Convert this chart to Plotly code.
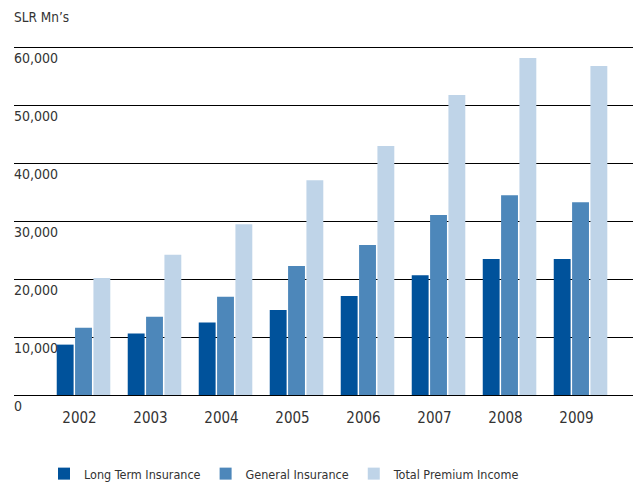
import plotly.graph_objects as go

years = ["2002", "2003", "2004", "2005", "2006", "2007", "2008", "2009"]
long_term = [8700, 10600, 12500, 14700, 17100, 20700, 23500, 23500]
general = [11600, 13500, 16950, 22300, 25900, 31100, 34500, 33300]
total_premium = [20200, 24200, 29500, 37100, 43000, 51800, 58200, 56800]

y_ticks = [0, 10000, 20000, 30000, 40000, 50000, 60000]
y_tick_text = ["0", "10,000", "20,000", "30,000", "40,000", "50,000", "60,000"]

FONT = "DejaVu Sans Condensed, Liberation Sans Narrow, Arial Narrow, sans-serif"
TXT = "#333333"

fig = go.Figure()
fig.add_trace(go.Bar(name="Long Term Insurance", x=years, y=long_term,
                     marker=dict(color="rgb(0,82,155)", line=dict(width=0))))
fig.add_trace(go.Bar(name="General Insurance", x=years, y=general,
                     marker=dict(color="rgb(77,135,186)", line=dict(width=0))))
fig.add_trace(go.Bar(name="Total Premium Income", x=years, y=total_premium,
                     marker=dict(color="rgb(191,212,232)", line=dict(width=0))))

fig.update_layout(
    width=639, height=483,
    margin=dict(l=14, r=6, t=36, b=88, pad=0),
    paper_bgcolor="white", plot_bgcolor="white",
    barmode="group", bargap=0.225, bargroupgap=0.08,
    font=dict(family=FONT, size=14, color=TXT),
    title=dict(text="SLR Mn’s", x=14/639, xref="container", xanchor="left",
               y=1 - 17/483, yref="container", yanchor="middle",
               font=dict(family=FONT, size=13.5, color=TXT)),
    showlegend=True,
    legend=dict(orientation="h", xref="container", yref="container",
                x=44/639, xanchor="left", y=9/483, yanchor="middle",
                font=dict(family=FONT, size=12.5, color=TXT),
                itemwidth=30, traceorder="normal", bgcolor="rgba(0,0,0,0)"),
    xaxis=dict(type="category", range=[-0.979, 7.739], showgrid=False,
               showline=False, ticks="", zeroline=False,
               ticklabelstandoff=12, ticklabelshift=-4,
               tickfont=dict(family=FONT, size=15, color=TXT)),
    yaxis=dict(range=[0, 62000], tickvals=y_ticks, ticktext=y_tick_text,
               showgrid=True, gridcolor="black", gridwidth=1,
               zeroline=True, zerolinecolor="black", zerolinewidth=1,
               showline=False, ticks="",
               ticklabelposition="inside", ticklabelshift=11, ticklabelstandoff=-3,
               ticklabeloverflow="allow",
               tickfont=dict(family=FONT, size=14, color=TXT)),
)

fig.write_html("out.html",
               config={"displayModeBar": False},
               post_script="document.body.style.margin='0';document.body.style.padding='0';")
